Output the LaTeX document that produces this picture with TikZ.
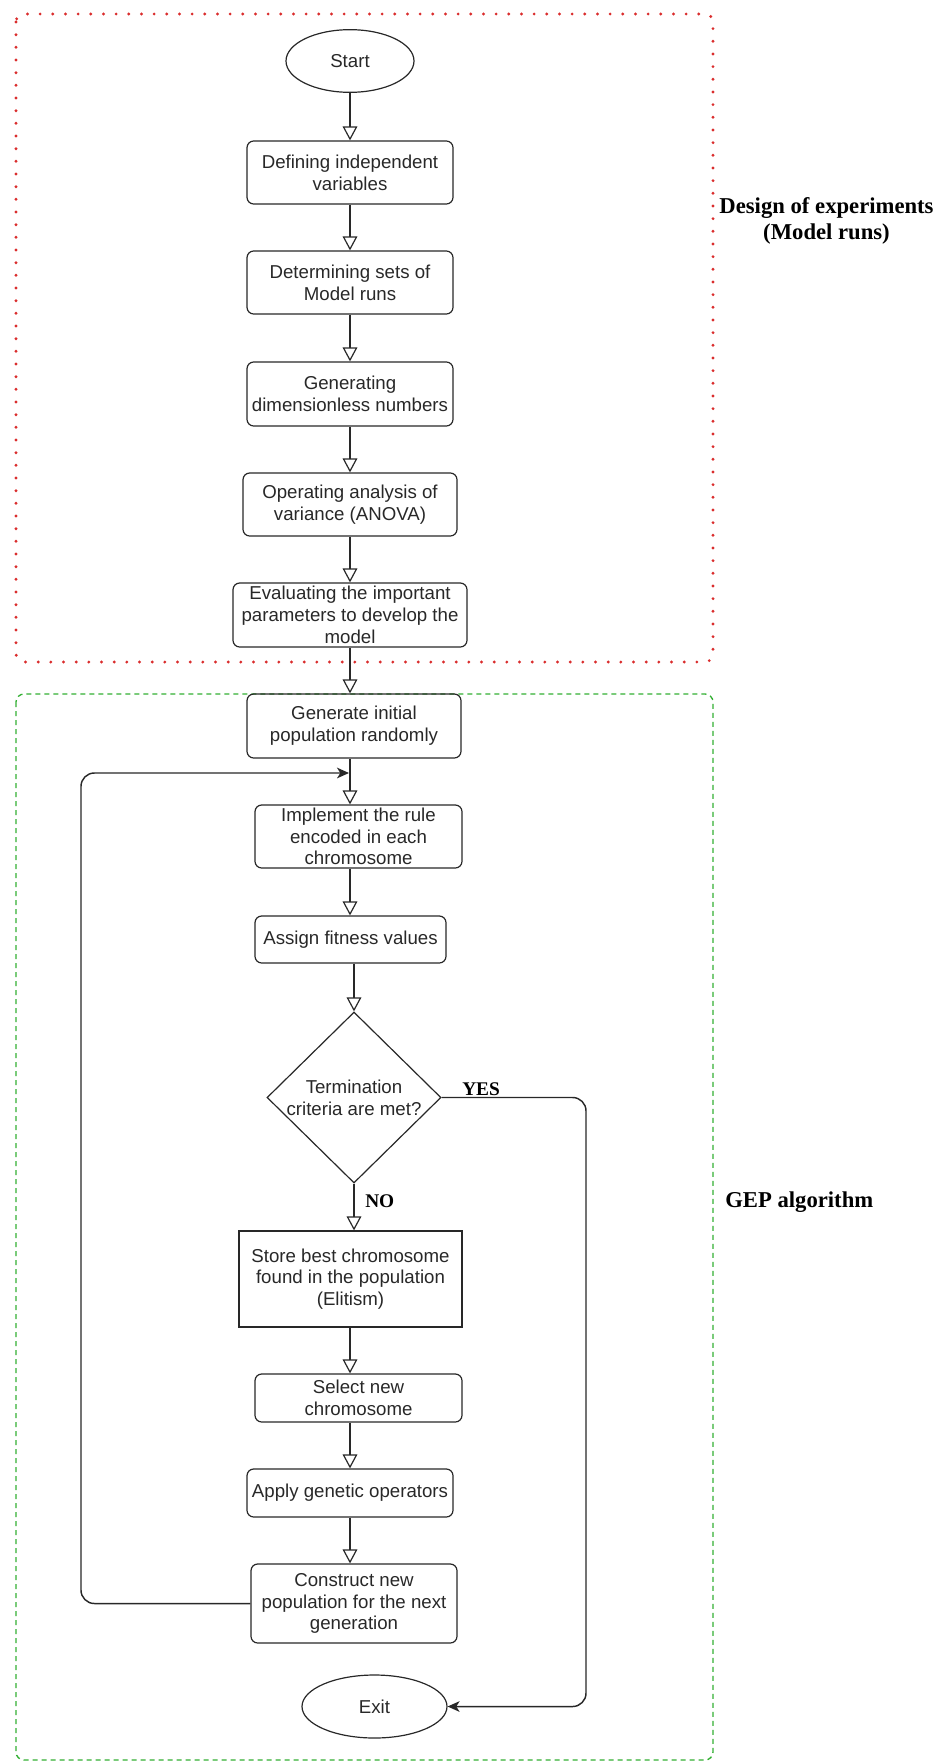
\documentclass[tikz,border=0pt]{standalone}
\usepackage{fontspec}
\setmainfont{Liberation Sans}
\newfontfamily\serifb{Liberation Serif}
\usetikzlibrary{arrows.meta,shapes.geometric}
\definecolor{dotred}{RGB}{218,45,45}
\definecolor{dashgreen}{RGB}{50,175,50}
\definecolor{ink}{RGB}{40,40,40}
\tikzset{
 box/.style={draw=ink, line width=0.9pt, rounded corners=5pt, align=center, inner sep=0pt, text=ink, font=\fontsize{14}{16.3}\selectfont},
 sqbox/.style={box, sharp corners},
 term/.style={ellipse, draw=ink, line width=0.9pt, inner sep=0pt, text=ink, font=\fontsize{14}{16.3}\selectfont},
 decision/.style={diamond, draw=ink, line width=0.9pt, inner sep=-4pt, align=center, text=ink, font=\fontsize{14}{16.3}\selectfont},
 fwd/.style={draw=ink, line width=0.9pt, -{Triangle[open, length=10.5pt, width=11pt]}},
 loopline/.style={draw=ink, line width=1.1pt, rounded corners=10pt, -{Stealth[length=9pt, width=8pt, inset=2.5pt]}},
 lbl/.style={font=\serifb\bfseries\fontsize{17}{19}\selectfont, align=center, text=black, inner sep=0pt},
 yn/.style={font=\serifb\bfseries\fontsize{14.5}{16}\selectfont, text=black, inner sep=0pt},
 redframe/.style={dotred, line width=2.4pt, line cap=round, dash pattern=on 0pt off 9.5pt, rounded corners=6pt},
 greenframe/.style={dashgreen, line width=1pt, dash pattern=on 3.75pt off 3pt, rounded corners=6pt},
}
\begin{document}
\begin{tikzpicture}[x=0.75pt,y=-0.75pt]
\useasboundingbox (0,0) rectangle (935,1762);
\draw[redframe] (16,14) rectangle (713,662);
\draw[greenframe] (16,694) rectangle (713,1760);

\node[term, minimum width=96pt, minimum height=47pt] (start) at (350,61) {Start};
\node[box, minimum width=154.5pt, minimum height=47.25pt] (def) at (350,172.5) {Defining independent\\variables};
\node[box, minimum width=154.5pt, minimum height=47.25pt] (det) at (350,282.5) {Determining sets of\\Model runs};
\node[box, minimum width=154.5pt, minimum height=48pt] (gen) at (350,394) {Generating\\dimensionless numbers};
\node[box, minimum width=160.5pt, minimum height=47.25pt] (op) at (350,504.5) {Operating analysis of\\variance (ANOVA)};
\node[box, minimum width=175.5pt, minimum height=48pt] (eval) at (350,615) {Evaluating the important\\parameters to develop the\\model};
\node[box, minimum width=160.5pt, minimum height=48pt] (init) at (354,726) {Generate initial\\population randomly};
\node[box, minimum width=155.25pt, minimum height=47.25pt] (impl) at (358.5,836.5) {Implement the rule\\encoded in each\\chromosome};
\node[box, minimum width=143.25pt, minimum height=35.25pt] (assign) at (350.5,939.5) {Assign fitness values};
\node[decision, minimum width=130.5pt, minimum height=128.25pt] (dec) at (354,1097.5) {Termination\\criteria are met?};
\node[sqbox, minimum width=167.25pt, minimum height=72pt] (store) at (350.5,1279) {Store best chromosome\\found in the population\\(Elitism)};
\node[box, minimum width=155.25pt, minimum height=36pt] (sel) at (358.5,1398) {Select new\\chromosome};
\node[box, minimum width=154.5pt, minimum height=36pt] (apply) at (350,1493) {Apply genetic operators};
\node[box, minimum width=154.5pt, minimum height=59.25pt] (cons) at (354,1603.5) {Construct new\\population for the next\\generation};
\node[term, minimum width=108.75pt, minimum height=47.25pt] (exit) at (374.5,1706.5) {Exit};

\draw[fwd] (start) -- (def);
\draw[fwd] (def) -- (det);
\draw[fwd] (det) -- (gen);
\draw[fwd] (gen) -- (op);
\draw[fwd] (op) -- (eval);
\draw[fwd] (eval.south) -- (eval.south |- init.north);
\draw[fwd] (init.south -| start) -- (impl.north -| start);
\draw[fwd] (impl.south -| start) -- (assign.north -| start);
\draw[fwd] (assign.south -| dec) -- (dec.north);
\draw[fwd] (dec.south) -- (dec.south |- store.north);
\draw[fwd] (store.south -| start) -- (sel.north -| start);
\draw[fwd] (sel.south -| start) -- (apply.north -| start);
\draw[fwd] (apply.south -| start) -- (cons.north -| start);

\coordinate (loopL) at (81,773);
\coordinate (loopIn) at (349,773);
\draw[loopline] (cons.west) -| (loopL) -- (loopIn);
\coordinate (yesR) at (586,1097.5);
\draw[loopline] (dec.east) -| (yesR |- exit.east) -- (exit.east);

\node[yn, anchor=base west] (yes) at (462,1095) {YES};
\node[yn, anchor=base west] (no) at (365,1207) {NO};
\node[lbl] (doe) at (826.5,221) {Design of experiments\\(Model runs)};
\node[lbl, anchor=base west] (gep) at (725,1207) {GEP algorithm};
\end{tikzpicture}
\end{document}
